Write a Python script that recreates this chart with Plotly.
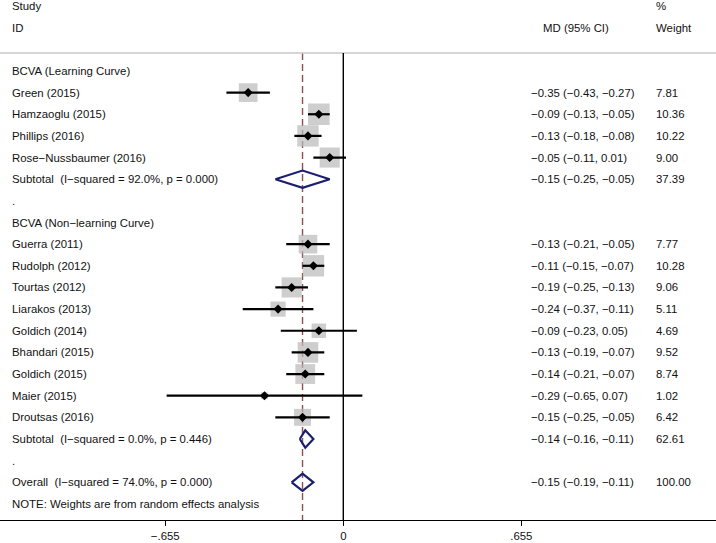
import plotly.graph_objects as go
import math

# ---------------- data ----------------
lc_studies = ["Green (2015)", "Hamzaoglu (2015)", "Phillips (2016)", "Rose\u2212Nussbaumer (2016)"]
lc_md = [-0.35, -0.09, -0.13, -0.05]
lc_lo = [-0.43, -0.13, -0.18, -0.11]
lc_hi = [-0.27, -0.05, -0.08, 0.01]
lc_wt = [7.81, 10.36, 10.22, 9.00]

nlc_studies = ["Guerra (2011)", "Rudolph (2012)", "Tourtas (2012)", "Liarakos (2013)",
               "Goldich (2014)", "Bhandari (2015)", "Goldich (2015)", "Maier (2015)",
               "Droutsas (2016)"]
nlc_md = [-0.13, -0.11, -0.19, -0.24, -0.09, -0.13, -0.14, -0.29, -0.15]
nlc_lo = [-0.21, -0.15, -0.25, -0.37, -0.23, -0.19, -0.21, -0.65, -0.25]
nlc_hi = [-0.05, -0.07, -0.13, -0.11, 0.05, -0.07, -0.07, 0.07, -0.05]
nlc_wt = [7.77, 10.28, 9.06, 5.11, 4.69, 9.52, 8.74, 1.02, 6.42]

pooled_labels = ["Subtotal  (I\u2212squared = 92.0%, p = 0.000)",
                 "Subtotal  (I\u2212squared = 0.0%, p = 0.446)",
                 "Overall  (I\u2212squared = 74.0%, p = 0.000)"]
pooled_md = [-0.15, -0.14, -0.15]
pooled_lo = [-0.25, -0.16, -0.19]
pooled_hi = [-0.05, -0.11, -0.11]
pooled_wt = [37.39, 62.61, 100.00]

group_labels = ["BCVA (Learning Curve)", "BCVA (Non\u2212learning Curve)"]
tick_vals = [-0.655, 0, 0.655]
tick_text = ["\u2212.655", "0", ".655"]
note_text = "NOTE: Weights are from random effects analysis"

# ---------------- layout of rows ----------------
W, H = 716, 543
FONT = "Liberation Sans, Arial, sans-serif"
FS = 11.4
MINUS = "\u2212"

def fmt(v):
    s = f"{v:.2f}"
    return s.replace("-", MINUS)

def ci_text(m, l, h):
    return f"{fmt(m)} ({fmt(l)}, {fmt(h)})"

rows = []  # (row, kind, label, md, lo, hi, wt)
r = 3
rows.append((r, "group", group_labels[0], None, None, None, None)); r += 1
for i in range(len(lc_studies)):
    rows.append((r, "study", lc_studies[i], lc_md[i], lc_lo[i], lc_hi[i], lc_wt[i])); r += 1
rows.append((r, "pooled", pooled_labels[0], pooled_md[0], pooled_lo[0], pooled_hi[0], pooled_wt[0])); r += 1
rows.append((r, "dot", ".", None, None, None, None)); r += 1
rows.append((r, "group", group_labels[1], None, None, None, None)); r += 1
for i in range(len(nlc_studies)):
    rows.append((r, "study", nlc_studies[i], nlc_md[i], nlc_lo[i], nlc_hi[i], nlc_wt[i])); r += 1
rows.append((r, "pooled", pooled_labels[1], pooled_md[1], pooled_lo[1], pooled_hi[1], pooled_wt[1])); r += 1
rows.append((r, "dot", ".", None, None, None, None)); r += 1
rows.append((r, "pooled", pooled_labels[2], pooled_md[2], pooled_lo[2], pooled_hi[2], pooled_wt[2])); r += 1
rows.append((r, "note", note_text, None, None, None, None))

# pixel geometry
row0_px, row_step = 6.0, 21.65
plot_bottom = 520
y_top = (0 - row0_px) / row_step
y_bot = (plot_bottom - row0_px) / row_step
px_per_unit = 271.8
zero_px = 343.3
x_left = (0 - zero_px) / px_per_unit
x_right = (W - zero_px) / px_per_unit
header_row = (53 - row0_px) / row_step

fig = go.Figure()

# boxes
study_rows = [x for x in rows if x[1] == "study"]
box_k = 6.69
fig.add_trace(go.Scatter(
    x=[s[3] for s in study_rows], y=[s[0] for s in study_rows], mode="markers",
    marker=dict(symbol="square", size=[box_k * math.sqrt(s[6]) for s in study_rows],
                color="#b9b9b9", line=dict(width=0)),
    hoverinfo="skip", showlegend=False))

# CI lines
cx, cy = [], []
for s in study_rows:
    cx += [s[4], s[5], None]
    cy += [s[0], s[0], None]
fig.add_trace(go.Scatter(x=cx, y=cy, mode="lines", line=dict(color="black", width=2.2),
                         hoverinfo="skip", showlegend=False))

# point estimates
fig.add_trace(go.Scatter(
    x=[s[3] for s in study_rows], y=[s[0] for s in study_rows], mode="markers",
    marker=dict(symbol="diamond", size=7, color="black"),
    hoverinfo="skip", showlegend=False))

# pooled diamonds
dh = 0.40
for p in [x for x in rows if x[1] == "pooled"]:
    rr, m, lo, hi = p[0], p[3], p[4], p[5]
    fig.add_trace(go.Scatter(
        x=[lo, m, hi, m, lo], y=[rr, rr - dh, rr, rr + dh, rr], mode="lines",
        line=dict(color="#1b1f6e", width=2.2), hoverinfo="skip", showlegend=False))

annotations = []

def add_text(xpx, row, text):
    annotations.append(dict(x=xpx / W, xref="paper", y=row, yref="y", text=text,
                            showarrow=False, xanchor="left", yanchor="middle",
                            font=dict(family=FONT, size=FS, color="#111111")))

add_text(10, 0, "Study")
add_text(10, 1, "ID")
add_text(541, 1, "MD (95% CI)")
add_text(654, 0, "%")
add_text(654, 1, "Weight")

for rr, kind, label, m, lo, hi, wt in rows:
    add_text(10, rr, label)
    if m is not None:
        add_text(529, rr, ci_text(m, lo, hi))
        add_text(654, rr, f"{wt:.2f}")

overall = pooled_md[2]
shapes = [
    dict(type="line", xref="paper", yref="y", x0=0, x1=1, y0=header_row, y1=header_row,
         line=dict(color="#c8c8c8", width=1.5), layer="above"),
    dict(type="line", xref="x", yref="y", x0=0, x1=0, y0=header_row, y1=y_bot,
         line=dict(color="black", width=1.4), layer="above"),
    dict(type="line", xref="x", yref="y", x0=overall, x1=overall, y0=header_row, y1=y_bot,
         line=dict(color="#8c4f55", width=1.4, dash="7px,4px"), layer="below"),
]

fig.update_layout(
    width=W, height=H,
    margin=dict(l=0, r=0, t=0, b=H - plot_bottom, pad=0),
    paper_bgcolor="white", plot_bgcolor="white",
    showlegend=False,
    annotations=annotations, shapes=shapes,
    xaxis=dict(range=[x_left, x_right], showgrid=False, zeroline=False,
               showline=True, linecolor="black", linewidth=1.4,
               ticks="outside", ticklen=5, tickwidth=1.2, tickcolor="black",
               tickvals=tick_vals, ticktext=tick_text,
               tickfont=dict(family=FONT, size=FS, color="#111111")),
    yaxis=dict(range=[y_bot, y_top], showgrid=False, zeroline=False, showline=False,
               showticklabels=False, ticks=""),
)

fig.write_html("out.html", config={"displayModeBar": False},
               post_script="document.body.style.margin='0';document.body.style.overflow='hidden';")
